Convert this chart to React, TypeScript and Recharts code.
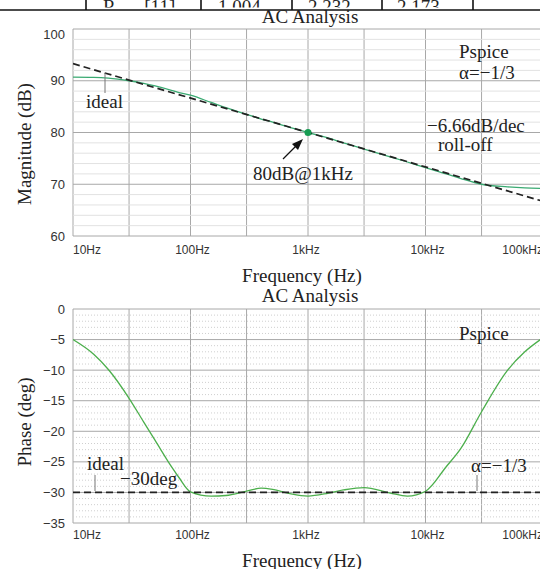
import React from "react";
import {
  LineChart,
  Line,
  XAxis,
  YAxis,
  CartesianGrid,
  ReferenceLine,
  ReferenceDot,
} from "recharts";

// frequency points (Hz)
const FREQS = [
  10, 15, 20, 30, 40, 50, 70, 80, 100, 150, 200, 300, 400, 500, 700, 1000,
  1500, 2000, 3000, 5000, 7000, 10000, 15000, 20000, 30000, 50000, 70000,
  100000,
];

// magnitude, dB
const MAG_PSPICE = [
  90.7, 90.65, 90.5, 90.0, 89.5, 89.0, 88.1, 87.7, 87.2, 85.8, 84.8, 83.5,
  82.6, 82.0, 81.0, 80.0, 78.9, 78.0, 76.8, 75.3, 74.3, 73.2, 72.0, 71.1,
  70.0, 69.5, 69.3, 69.2,
];

// phase, deg
const PHASE_PSPICE = [
  -5.0, -7.4, -9.9, -14.6, -18.5, -21.5, -26.0, -27.6, -29.9, -30.6, -30.5,
  -29.8, -29.3, -29.5, -30.2, -30.6, -30.1, -29.6, -29.2, -30.1, -30.6, -29.8,
  -25.8, -22.8, -16.8, -10.0, -7.0, -4.7,
];

// ideal fractional-order response (end points)
const IDEAL_FREQS = [10, 100000];
const IDEAL_MAG = [93.3, 66.7];
const IDEAL_PHASE = [-30, -30];

const X_GRID = [10, 30, 100, 300, 1000, 3000, 10000, 30000, 100000];
const X_LABELS: Record<number, string> = {
  10: "10Hz",
  100: "100Hz",
  1000: "1kHz",
  10000: "10kHz",
  100000: "100kHz",
};

const MAG_TICKS = [60, 70, 80, 90, 100];
const MAG_MINOR = [62, 64, 66, 68, 72, 74, 76, 78, 82, 84, 86, 88, 92, 94, 96, 98];
const PHASE_TICKS = [-35, -30, -25, -20, -15, -10, -5, 0];
const PHASE_MINOR = [
  -34, -33, -32, -31, -29, -28, -27, -26, -24, -23, -22, -21, -19, -18, -17,
  -16, -14, -13, -12, -11, -9, -8, -7, -6, -4, -3, -2, -1,
];

const magData = FREQS.map((f, i) => ({ f, v: MAG_PSPICE[i] }));
const phaseData = FREQS.map((f, i) => ({ f, v: PHASE_PSPICE[i] }));
const idealMag = IDEAL_FREQS.map((f, i) => ({ f, v: IDEAL_MAG[i] }));
const idealPhase = IDEAL_FREQS.map((f, i) => ({ f, v: IDEAL_PHASE[i] }));

const SERIF = "'Liberation Serif', 'Times New Roman', serif";
const SANS = "'Liberation Sans', Arial, sans-serif";

// label nudges so they sit like the PSpice plot
const LABEL_STYLE: Record<number, { dx: number; anchor: "start" | "middle" | "end" }> = {
  10: { dx: 0, anchor: "start" },
  100: { dx: 2, anchor: "middle" },
  1000: { dx: -2, anchor: "middle" },
  10000: { dx: 2, anchor: "middle" },
  100000: { dx: 0, anchor: "end" },
};

function makeXTick(dy: number) {
  return (props: any) => {
    const { x, y, payload } = props;
    const lab = X_LABELS[payload.value];
    if (!lab) return <g />;
    const s = LABEL_STYLE[payload.value];
    return (
      <text
        x={x + s.dx}
        y={y + dy}
        textAnchor={s.anchor}
        fontFamily={SANS}
        fontSize={12}
        fill="#333"
      >
        {lab}
      </text>
    );
  };
}

function makeYTick(top: number) {
  return (props: any) => {
    const { x, y, payload } = props;
    const v = payload.value;
    const shift = v === top && top > 0 ? 5 : 0;
    return (
      <text
        x={x - 8}
        y={y + shift}
        dy="0.35em"
        textAnchor="end"
        fontFamily={SANS}
        fontSize={13}
        fill="#333"
      >
        {v < 0 ? "\u2212" + Math.abs(v) : v}
      </text>
    );
  };
}

function MagnitudeChart() {
  return (
    <LineChart
      width={546}
      height={290}
      data={magData}
      margin={{ top: 29, right: 3, bottom: 0, left: 0 }}
    >
      {MAG_MINOR.map((v) => (
        <ReferenceLine key={v} y={v} stroke="#e2e2e2" strokeWidth={1} />
      ))}
      <CartesianGrid stroke="#a8a8a8" strokeWidth={1} />
      <XAxis
        dataKey="f"
        type="number"
        scale="log"
        domain={[10, 100000]}
        ticks={X_GRID}
        interval={0}
        height={54}
        axisLine={false}
        tickLine={false}
        tickSize={0}
        tickMargin={0}
        tick={makeXTick(18)}
        allowDataOverflow
      />
      <YAxis
        type="number"
        domain={[60, 100]}
        ticks={MAG_TICKS}
        interval={0}
        width={73}
        axisLine={false}
        tickLine={false}
        tickSize={0}
        tickMargin={0}
        tick={makeYTick(100)}
        allowDataOverflow
      />
      <Line
        dataKey="v"
        type="monotone"
        stroke="#3aaa72"
        strokeWidth={1.3}
        dot={false}
        isAnimationActive={false}
      />
      <Line
        data={idealMag}
        dataKey="v"
        type="linear"
        stroke="#222"
        strokeWidth={1.7}
        strokeDasharray="7 4"
        dot={false}
        isAnimationActive={false}
      />
      <ReferenceDot x={1000} y={80} r={3.5} fill="#169c52" stroke="none" />
    </LineChart>
  );
}

function PhaseChart() {
  return (
    <LineChart
      width={546}
      height={289}
      data={phaseData}
      margin={{ top: 29, right: 3, bottom: 0, left: 0 }}
    >
      {PHASE_MINOR.map((v) => (
        <ReferenceLine
          key={v}
          y={v}
          stroke="#cfcfcf"
          strokeWidth={1}
          strokeDasharray="1 2"
        />
      ))}
      <CartesianGrid stroke="#a8a8a8" strokeWidth={1} />
      <XAxis
        dataKey="f"
        type="number"
        scale="log"
        domain={[10, 100000]}
        ticks={X_GRID}
        interval={0}
        height={46}
        axisLine={false}
        tickLine={false}
        tickSize={0}
        tickMargin={0}
        tick={makeXTick(16)}
        allowDataOverflow
      />
      <YAxis
        type="number"
        domain={[-35, 0]}
        ticks={PHASE_TICKS}
        interval={0}
        width={73}
        axisLine={false}
        tickLine={false}
        tickSize={0}
        tickMargin={0}
        tick={makeYTick(0)}
        allowDataOverflow
      />
      <Line
        dataKey="v"
        type="monotone"
        stroke="#4caf4c"
        strokeWidth={1.3}
        dot={false}
        isAnimationActive={false}
      />
      <Line
        data={idealPhase}
        dataKey="v"
        type="linear"
        stroke="#222"
        strokeWidth={1.7}
        strokeDasharray="7 4"
        dot={false}
        isAnimationActive={false}
      />
    </LineChart>
  );
}

function Overlay() {
  const t = { fontFamily: SERIF, fontSize: 19, fill: "#222" };
  return (
    <svg
      width={540}
      height={569}
      style={{ position: "absolute", left: 0, top: 0, pointerEvents: "none" }}
    >
      <defs>
        <clipPath id="tblClip">
          <rect x={0} y={0} width={540} height={7.5} />
        </clipPath>
      </defs>
      {/* tail of the table above the figure */}
      <g clipPath="url(#tblClip)" {...t}>
        <text x={103} y={13}>
          R
          <tspan fontStyle="italic" fontSize={13} dy={4}>
            nc4r
          </tspan>
          <tspan dy={-4}> [11]</tspan>
        </text>
        <text x={218} y={13}>1.004</text>
        <text x={308} y={13}>2.232</text>
        <text x={397} y={13}>2.173</text>
      </g>
      <line x1={0} y1={10} x2={540} y2={10} stroke="#111" strokeWidth={1.6} />
      {[86, 201, 292, 382, 473].map((x) => (
        <line key={x} x1={x} y1={0} x2={x} y2={10} stroke="#111" strokeWidth={1.6} />
      ))}

      {/* magnitude panel */}
      <text {...t} x={310} y={23} textAnchor="middle">AC Analysis</text>
      <text {...t} transform="translate(31,144) rotate(-90)" textAnchor="middle">
        Magnitude (dB)
      </text>
      <line x1={105} y1={73} x2={105} y2={93} stroke="#777" strokeWidth={1} />
      <text {...t} x={86} y={108}>ideal</text>
      <text {...t} x={459} y={58}>Pspice</text>
      <text {...t} x={459} y={79}>{"\u03b1=\u2212" + "1/3"}</text>
      <text {...t} x={427} y={132}>{"\u22126.66dB/dec"}</text>
      <text {...t} x={438} y={151}>roll-off</text>
      <text {...t} x={253} y={180}>80dB@1kHz</text>
      <line x1={283} y1={159} x2={296} y2={146} stroke="#111" strokeWidth={1.3} />
      <polygon points="303,139 292,144 298,150" fill="#111" />
      <text {...t} x={302} y={282} textAnchor="middle">Frequency (Hz)</text>

      {/* phase panel */}
      <text {...t} x={310} y={302} textAnchor="middle">AC Analysis</text>
      <text {...t} transform="translate(31,422) rotate(-90)" textAnchor="middle">
        Phase (deg)
      </text>
      <text {...t} x={459} y={340}>Pspice</text>
      <text {...t} x={87} y={470}>ideal</text>
      <line x1={95} y1={475} x2={95} y2={491} stroke="#777" strokeWidth={1} />
      <text {...t} x={120} y={485}>{"\u221230deg"}</text>
      <text {...t} x={471} y={472}>{"\u03b1=\u2212" + "1/3"}</text>
      <line x1={477} y1={475} x2={477} y2={491} stroke="#777" strokeWidth={1} />
      <text {...t} x={302} y={567} textAnchor="middle">Frequency (Hz)</text>
    </svg>
  );
}

export default function App() {
  return (
    <div
      style={{
        position: "absolute",
        left: 0,
        top: 0,
        width: 540,
        height: 569,
        overflow: "hidden",
        background: "#fff",
      }}
    >
      <div style={{ position: "absolute", left: 0, top: 0 }}>
        <MagnitudeChart />
      </div>
      <div style={{ position: "absolute", left: 0, top: 280 }}>
        <PhaseChart />
      </div>
      <Overlay />
    </div>
  );
}
